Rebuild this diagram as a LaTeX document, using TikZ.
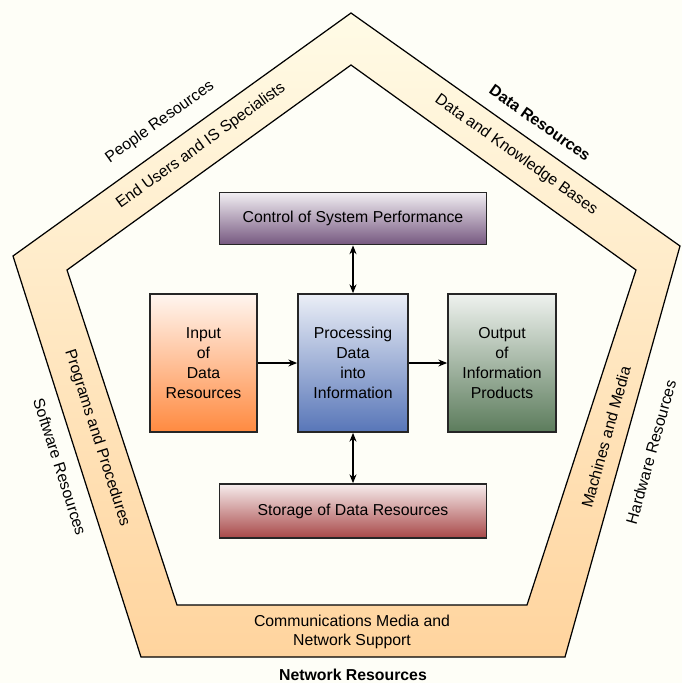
\documentclass[tikz,border=0pt]{standalone}
\usepackage{fontspec}
\setmainfont{Liberation Sans}
\usepackage{xcolor}
\definecolor{Paper}{RGB}{254,254,247}
\definecolor{BandTop}{RGB}{255,251,230}
\definecolor{BandBot}{RGB}{255,212,158}
\definecolor{CtrlCol}{RGB}{118,88,128}
\definecolor{InCol}{RGB}{255,138,64}
\definecolor{ProcCol}{RGB}{88,118,184}
\definecolor{OutCol}{RGB}{92,124,92}
\definecolor{StoCol}{RGB}{168,72,72}
\usepackage{tikz}
\usetikzlibrary{arrows.meta}
\tikzstyle{Box}=[draw=black!85,line width=1pt,align=center,
font=\fontsize{9}{11.5}\selectfont,inner sep=2pt]
\tikzstyle{WideBox}=[Box,minimum width=5.34cm,minimum height=1.04cm]
\tikzstyle{TallBox}=[Box,minimum width=2.16cm,minimum height=2.76cm]
\tikzstyle{Flow}=[draw=black,line width=0.8pt,-{Stealth[length=5pt,width=4pt]}]
\tikzstyle{BiFlow}=[Flow,{Stealth[length=5pt,width=4pt]}-{Stealth[length=5pt,width=4pt]}]
\tikzstyle{Band}=[draw=black,line width=0.7pt,line join=miter]
\tikzstyle{BandText}=[font=\fontsize{9}{11}\selectfont,align=center]
\tikzstyle{ResText}=[font=\fontsize{9}{11}\selectfont]

\begin{document}
\begin{tikzpicture}[x=0.02cm,y=-0.02cm]
    \useasboundingbox (0,0) rectangle (682,683);
    \fill[Paper] (0,0) rectangle (682,683);
    % outer pentagon
    \coordinate(o1)at(351,13);
    \coordinate(o2)at(680,246);
    \coordinate(o3)at(565,657);
    \coordinate(o4)at(141,657);
    \coordinate(o5)at(13,256);
    % inner pentagon
    \coordinate(i1)at(351,65);
    \coordinate(i2)at(636,270);
    \coordinate(i3)at(527,605);
    \coordinate(i4)at(177,605);
    \coordinate(i5)at(67,270);
    \shade[top color=BandTop,bottom color=BandBot](o1)--(o2)--(o3)--(o4)--(o5)--cycle;
    \draw[Band](o1)--(o2)--(o3)--(o4)--(o5)--cycle;
    \filldraw[Band,fill=Paper](i1)--(i2)--(i3)--(i4)--(i5)--cycle;
    % boxes
    \node[WideBox,top color=CtrlCol!10,bottom color=CtrlCol](ctrl)at(353,218.5){Control of System Performance};
    \node[TallBox,minimum width=2.14cm,top color=InCol!8,bottom color=InCol](input)at(203.5,363){Input\\of\\Data\\Resources};
    \node[TallBox,minimum width=2.2cm,top color=ProcCol!12,bottom color=ProcCol](proc)at(353,363){Processing\\Data\\into\\Information};
    \node[TallBox,top color=OutCol!10,bottom color=OutCol](output)at(502,363){Output\\of\\Information\\Products};
    \node[WideBox,minimum height=1.08cm,top color=StoCol!10,bottom color=StoCol](store)at(353,511){Storage of Data Resources};
    \draw[Flow](input)--(proc);
    \draw[Flow](proc)--(output);
    \draw[BiFlow](ctrl)--(proc);
    \draw[BiFlow](proc)--(store);
    % band labels
    \node[BandText,rotate=35.7](users)at(201,146){End Users and IS Specialists};
    \node[ResText,rotate=35.7](people)at(160,122){People Resources};
    \node[BandText,rotate=-35.3](bases)at(516,155){Data and Knowledge Bases};
    \node[ResText,font=\fontsize{9}{11}\selectfont\bfseries,rotate=-35.3](datares)at(540,123){Data Resources};
    \node[BandText,rotate=74.4](media)at(606,437){Machines and Media};
    \node[ResText,rotate=74.4](hardres)at(651,452){Hardware Resources};
    \node[BandText,rotate=-72.3](progs)at(97,438){Programs and Procedures};
    \node[ResText,rotate=-72.3](softres)at(60,467){Software Resources};
    \node[BandText](comm)at(352,632){Communications Media and\\Network Support};
    \node[ResText,font=\fontsize{9}{11}\selectfont\bfseries](netres)at(353,675){Network Resources};
\end{tikzpicture}
\end{document}
